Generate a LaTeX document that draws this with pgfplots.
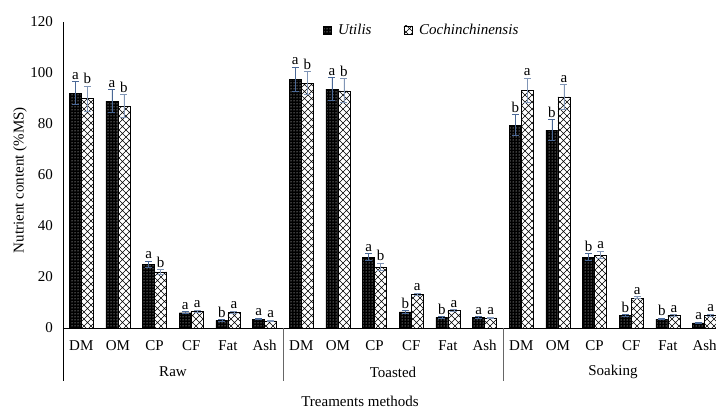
\documentclass[border=0pt]{standalone}
\usepackage{pgfplots}
\pgfplotsset{compat=1.18}
\usepackage{pgfplotstable}
\usetikzlibrary{patterns}
\usepackage{fontspec}
\setmainfont{Liberation Serif}
\definecolor{errblue}{RGB}{74,104,150}
\pgfdeclarepatternformonly{bigx}{\pgfqpoint{-1pt}{-1pt}}{\pgfqpoint{8pt}{8pt}}{\pgfqpoint{7pt}{7pt}}{%
  \pgfsetlinewidth{0.6pt}%
  \pgfpathmoveto{\pgfqpoint{0pt}{0pt}}\pgfpathlineto{\pgfqpoint{7pt}{7pt}}%
  \pgfpathmoveto{\pgfqpoint{0pt}{7pt}}\pgfpathlineto{\pgfqpoint{7pt}{0pt}}%
  \pgfusepath{stroke}}

\pgfplotstableread{
x  u     ue   ul  c     ce   cl
0  92    4.5  a   90    4.9  b
1  89    4.5  a   87    4.5  b
2  25    1.2  a   22    0.9  b
3  6     0.4  a   6.6   0.4  a
4  3     0.3  b   6.2   0.4  a
5  3.5   0.3  a   2.8   0.3  a
6  97.6  4.7  a   96    4.5  b
7  93.7  4.5  a   93    4.7  b
8  27.8  1.4  a   24    1.5  b
9  6.3   0.4  b   13.3  0.4  a
10 4.2   0.3  b   6.8   0.4  a
11 4.2   0.3  a   4     0.3  a
12 79.6  4.0  b   93.3  4.7  a
13 77.6  4.0  b   90.6  4.9  a
14 27.8  1.4  b   28.6  1.5  a
15 5     0.3  b   11.8  0.4  a
16 3.5   0.3  b   5     0.3  a
17 2     0.3  a   5     0.4  a
}\data

\begin{document}
\fontsize{15}{17}\selectfont
\begin{tikzpicture}
\useasboundingbox (-63pt,-82pt) rectangle (653pt,328pt);
\begin{axis}[
  at={(0,0)}, anchor=south west,
  scale only axis, width=653pt, height=306pt,
  ybar, bar width=12pt,
  xmin=-0.5, xmax=17.31,
  ymin=0, ymax=120, ytick={0,20,...,120},
  axis x line*=bottom, axis y line*=left,
  axis line style={black, line width=0.6pt},
  xtick={0,...,17},
  xticklabels={DM,OM,CP,CF,Fat,Ash,DM,OM,CP,CF,Fat,Ash,DM,OM,CP,CF,Fat,Ash},
  major tick length=0pt,
  /pgf/number format/assume math mode=true,
  tick label style={font=\fontsize{15}{17}\selectfont},
  yticklabel style={xshift=-5pt},
  xticklabel style={yshift=-7pt},
  clip=false,
  legend style={at={(rel axis cs:0.393,0.974)}, anchor=west, draw=none, fill=none,
    legend columns=2, font=\fontsize{15}{17}\selectfont\itshape,
    /tikz/every even column/.append style={column sep=30pt}},
  legend image code/.code={\draw[#1] (0pt,-4pt) rectangle (8pt,4pt); \path (13pt,0pt);},
  error bars/y dir=both, error bars/y explicit,
]
\addplot[bar shift=-6pt, draw=black, fill=black, postaction={pattern=dots, pattern color=white},
  error bars/error bar style={errblue, line width=0.9pt},
  error bars/error mark options={rotate=90, mark size=3.5pt, errblue, line width=0.9pt}]
  table[x=x, y=u, y error=ue]{\data};
\addlegendentry{Utilis}
\addplot[bar shift=6pt, draw=black, line width=0.6pt, fill=white, postaction={pattern=bigx},
  error bars/error bar style={errblue!70, line width=0.9pt},
  error bars/error mark options={rotate=90, mark size=3.5pt, errblue!70, line width=0.9pt}]
  table[x=x, y=c, y error=ce]{\data};
\addlegendentry{Cochinchinensis}
\addplot[forget plot, bar shift=-6pt, draw=none, fill=none, error bars/y dir=none,
  point meta=explicit symbolic, nodes near coords,
  every node near coord/.append style={font=\fontsize{15}{17}\selectfont, inner sep=2pt, anchor=south}]
  table[x=x, y expr=\thisrow{u}+\thisrow{ue}, meta=ul]{\data};
\addplot[forget plot, bar shift=6pt, draw=none, fill=none, error bars/y dir=none,
  point meta=explicit symbolic, nodes near coords,
  every node near coord/.append style={font=\fontsize{15}{17}\selectfont, inner sep=2pt, anchor=south}]
  table[x=x, y expr=\thisrow{c}+\thisrow{ce}, meta=cl]{\data};
\draw[black, line width=0.6pt] (axis cs:-0.5,0) -- ++(0pt,-53pt);
\draw[gray!80!black, line width=0.6pt] (axis cs:5.5,0) -- ++(0pt,-53pt);
\draw[gray!80!black, line width=0.6pt] (axis cs:11.5,0) -- ++(0pt,-53pt);
\node at (axis cs:2.5,0) [yshift=-44pt] {Raw};
\node at (axis cs:8.5,0) [yshift=-44pt] {Toasted};
\node at (axis cs:14.5,0) [yshift=-44pt] {Soaking};
\node at ([yshift=-73pt]axis cs:7.6,0) {Treaments methods};
\node[rotate=90] at ([xshift=-43pt]axis cs:-0.5,58) {Nutrient content (\%MS)};
\end{axis}
\end{tikzpicture}
\end{document}
